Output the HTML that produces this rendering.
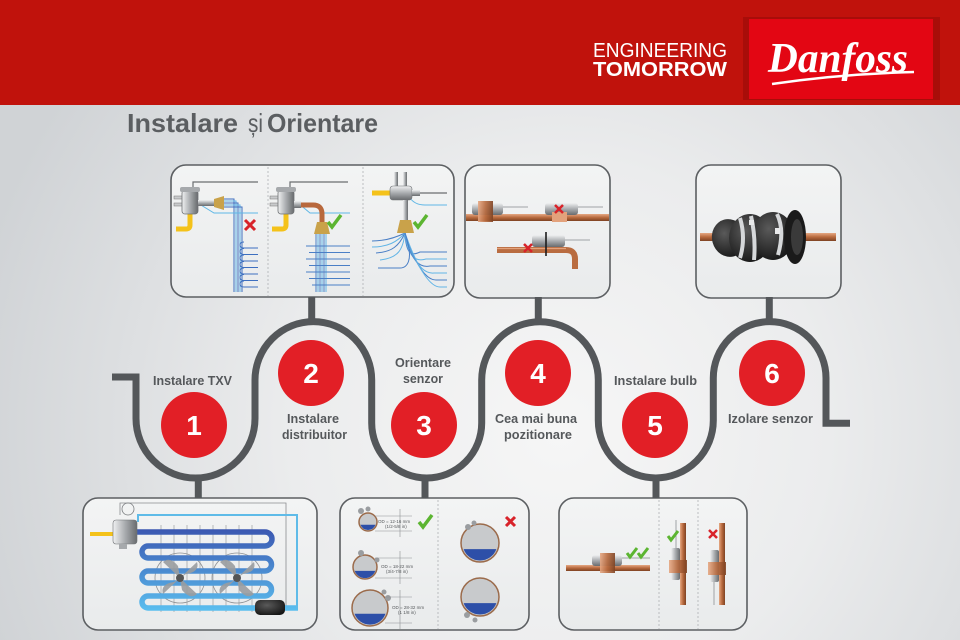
<!DOCTYPE html>
<html><head><meta charset="utf-8">
<style>html,body{margin:0;padding:0;width:960px;height:640px;overflow:hidden;background:#e4e6e8}svg{display:block}</style>
</head>
<body>
<svg width="960" height="640" viewBox="0 0 960 640" xmlns="http://www.w3.org/2000/svg" font-family="'Liberation Sans', sans-serif">
<defs>
<radialGradient id="bg" cx="560" cy="430" r="600" gradientUnits="userSpaceOnUse">
<stop offset="0" stop-color="#f6f6f6"/><stop offset="0.45" stop-color="#ebeced"/><stop offset="1" stop-color="#d0d3d6"/>
</radialGradient>
<linearGradient id="coil" x1="0" y1="528" x2="0" y2="612" gradientUnits="userSpaceOnUse"><stop offset="0" stop-color="#3a55b0"/><stop offset="1" stop-color="#5bc0f0"/></linearGradient>
<linearGradient id="cu" x1="0" y1="0" x2="0" y2="1"><stop offset="0" stop-color="#e6a883"/><stop offset="0.5" stop-color="#b86a3e"/><stop offset="1" stop-color="#7e4222"/></linearGradient>
<linearGradient id="cuv" x1="0" y1="0" x2="1" y2="0"><stop offset="0" stop-color="#e6a883"/><stop offset="0.5" stop-color="#b86a3e"/><stop offset="1" stop-color="#7e4222"/></linearGradient>
<linearGradient id="metal" x1="0" y1="0" x2="0" y2="1"><stop offset="0" stop-color="#f0f1f2"/><stop offset="0.5" stop-color="#a9acaf"/><stop offset="1" stop-color="#686b6e"/></linearGradient>
<linearGradient id="metalv" x1="0" y1="0" x2="1" y2="0"><stop offset="0" stop-color="#f0f1f2"/><stop offset="0.5" stop-color="#a9acaf"/><stop offset="1" stop-color="#686b6e"/></linearGradient>
<radialGradient id="rub" cx="0.4" cy="0.35" r="0.7"><stop offset="0" stop-color="#5a5a5a"/><stop offset="1" stop-color="#161616"/></radialGradient>
<linearGradient id="panel" x1="0" y1="0" x2="0" y2="1"><stop offset="0" stop-color="#f3f4f4"/><stop offset="1" stop-color="#e9ebec"/></linearGradient>
</defs>

<!-- background -->
<rect x="0" y="0" width="960" height="640" fill="url(#bg)"/>

<!-- header -->
<rect x="0" y="0" width="960" height="105" fill="#c0120c"/>
<rect x="743" y="17" width="197" height="83" fill="#a80d09"/>
<rect x="749" y="19" width="184" height="80" fill="#e30613"/>
<text x="768" y="72" font-family="'Liberation Serif', serif" font-style="italic" font-weight="bold" font-size="42" fill="#fff" textLength="140" lengthAdjust="spacingAndGlyphs">Danfoss</text>
<path d="M772,84 Q840,74 914,72" stroke="#fff" stroke-width="2.5" fill="none"/>
<text x="593" y="57" font-size="20" fill="#fff" textLength="134" lengthAdjust="spacingAndGlyphs">ENGINEERING</text>
<text x="593" y="76" font-size="20" font-weight="bold" fill="#fff" textLength="134" lengthAdjust="spacingAndGlyphs">TOMORROW</text>

<!-- title -->
<g fill="#5b5e61" font-size="26">
<text x="127" y="132" font-weight="bold" textLength="111" lengthAdjust="spacingAndGlyphs">Instalare</text>
<text x="248" y="132" textLength="15" lengthAdjust="spacingAndGlyphs">și</text>
<text x="267" y="132" font-weight="bold" textLength="111" lengthAdjust="spacingAndGlyphs">Orientare</text>
</g>

<!-- panels -->
<g fill="url(#panel)" stroke="#5c5f62" stroke-width="1.6">
<rect x="171" y="165" width="283" height="132" rx="15"/>
<rect x="465" y="165" width="145" height="133" rx="15"/>
<rect x="696" y="165" width="145" height="133" rx="15"/>
<rect x="83" y="498" width="234" height="132" rx="15"/>
<rect x="340" y="498" width="189" height="132" rx="15"/>
<rect x="559" y="498" width="188" height="132" rx="15"/>
</g>
<g stroke="#aeb1b4" stroke-width="0.8" stroke-dasharray="2,2">
<line x1="268" y1="167" x2="268" y2="296"/>
<line x1="363" y1="167" x2="363" y2="296"/>
<line x1="438" y1="500" x2="438" y2="629"/>
<line x1="659" y1="500" x2="659" y2="629"/>
<line x1="698" y1="500" x2="698" y2="629"/>
</g>

<!-- snake path -->
<g stroke="#54575a" stroke-width="7" fill="none" stroke-linejoin="miter">
<path d="M112,377 H136 V418.5 A59.5,59.5 0 0 0 255,418.5 V380 A58.35,58.35 0 0 1 371.7,380 V423 A55,55 0 0 0 481.7,423 V380 A58.3,58.3 0 0 1 598.3,380 V420.5 A57.5,57.5 0 0 0 713.3,420.5 V378 A56.35,56.35 0 0 1 826,378 V423.3 H850"/>
<line x1="311.7" y1="297" x2="311.7" y2="322"/>
<line x1="538.3" y1="297" x2="538.3" y2="322"/>
<line x1="769.3" y1="297" x2="769.3" y2="322"/>
<line x1="198.3" y1="478" x2="198.3" y2="498"/>
<line x1="425" y1="478" x2="425" y2="498"/>
<line x1="656" y1="478" x2="656" y2="498"/>
</g>

<!-- circles -->
<g fill="#e21f26">
<circle cx="194" cy="425" r="33"/>
<circle cx="311" cy="373" r="33"/>
<circle cx="424" cy="425" r="33"/>
<circle cx="538" cy="373" r="33"/>
<circle cx="655" cy="425" r="33"/>
<circle cx="772" cy="373" r="33"/>
</g>
<g fill="#fff" font-size="28" font-weight="bold" text-anchor="middle">
<text x="194" y="435">1</text>
<text x="311" y="383">2</text>
<text x="424" y="435">3</text>
<text x="538" y="383">4</text>
<text x="655" y="435">5</text>
<text x="772" y="383">6</text>
</g>

<!-- labels -->
<g fill="#55585b" font-size="13" font-weight="bold">
<text x="153" y="385" textLength="79" lengthAdjust="spacingAndGlyphs">Instalare TXV</text>
<text x="287" y="423" textLength="52" lengthAdjust="spacingAndGlyphs">Instalare</text>
<text x="282" y="439" textLength="65" lengthAdjust="spacingAndGlyphs">distribuitor</text>
<text x="395" y="367" textLength="56" lengthAdjust="spacingAndGlyphs">Orientare</text>
<text x="403" y="383" textLength="40" lengthAdjust="spacingAndGlyphs">senzor</text>
<text x="495" y="423" textLength="82" lengthAdjust="spacingAndGlyphs">Cea mai buna</text>
<text x="504" y="439" textLength="68" lengthAdjust="spacingAndGlyphs">pozitionare</text>
<text x="614" y="385" textLength="83" lengthAdjust="spacingAndGlyphs">Instalare bulb</text>
<text x="728" y="423" textLength="85" lengthAdjust="spacingAndGlyphs">Izolare senzor</text>
</g>

<!-- ===== Panel A (distributor) ===== -->
<g>
<path d="M193,190 V182 H258" stroke="#6b6e70" stroke-width="1.2" fill="none"/>
<g fill="none" stroke-width="1">
<path d="M224,199 H234 V292" stroke="#3d6fc0"/>
<path d="M224,201 H236 V292" stroke="#62b5e6"/>
<path d="M224,203 H238 V292" stroke="#3d6fc0"/>
<path d="M224,205 H240 V292" stroke="#62b5e6"/>
<path d="M224,207 H242 V292" stroke="#3d6fc0"/>
</g>
<g fill="none" stroke="#3d6fc0" stroke-width="1">
<path d="M244,242 q-4,0 -4,3 q0,3 4,3 H258"/>
<path d="M244,248.5 q-4,0 -4,3 q0,3 4,3 H258"/>
<path d="M244,255 q-4,0 -4,3 q0,3 4,3 H258"/>
<path d="M244,261.5 q-4,0 -4,3 q0,3 4,3 H258"/>
<path d="M244,268 q-4,0 -4,3 q0,3 4,3 H258"/>
<path d="M244,274.5 q-4,0 -4,3 q0,3 4,3 H258"/>
<path d="M244,281 q-4,0 -4,3 q0,3 4,3 H258"/>
</g>
<path d="M196,202 L214,213 H258" stroke="#5fb7e6" stroke-width="1" fill="none"/>
<path d="M176,229 H186 Q190,229 190,225 V214" stroke="#f4c21a" stroke-width="5" fill="none"/>
<rect x="174" y="196" width="10" height="3" fill="#c8cacc" stroke="#777" stroke-width="0.5"/>
<rect x="174" y="203" width="10" height="3" fill="#c8cacc" stroke="#777" stroke-width="0.5"/>
<rect x="182" y="190" width="16" height="24" rx="3" fill="url(#metalv)" stroke="#6f7275" stroke-width="0.8"/>
<rect x="180" y="187" width="20" height="5" rx="2" fill="#a6a9ac"/>
<rect x="198" y="200" width="16" height="6" fill="url(#metal)"/>
<path d="M214,199 L224,196 L224,210 L214,207Z" fill="#c9a24a"/>
<path d="M245,220 l10,10 M255,220 l-10,10" stroke="#d8232a" stroke-width="3"/>
</g>
<g>
<path d="M290,190 V182 H348" stroke="#6b6e70" stroke-width="1.2" fill="none"/>
<path d="M298,203 L310,213 H350" stroke="#5fb7e6" stroke-width="1" fill="none"/>
<g stroke="#4a7fc6" stroke-width="1" fill="none">
<path d="M316,234 V292"/><path d="M318,234 V292" stroke="#62b5e6"/><path d="M320,234 V292"/><path d="M322,234 V292" stroke="#62b5e6"/><path d="M324,234 V292"/><path d="M326,234 V292" stroke="#62b5e6"/>
<path d="M306,246 H350"/><path d="M309,252.5 H350"/><path d="M306,259 H350"/><path d="M309,265.5 H350"/><path d="M306,272 H350"/><path d="M309,278.5 H350"/><path d="M312,285 H350"/>
</g>
<path d="M272,229 H282 Q286,229 286,225 V214" stroke="#f4c21a" stroke-width="5" fill="none"/>
<path d="M300,205 H313 Q322,205 322,214 V222" stroke="#b8683c" stroke-width="5" fill="none"/>
<rect x="270" y="196" width="10" height="3" fill="#c8cacc" stroke="#777" stroke-width="0.5"/>
<rect x="270" y="203" width="10" height="3" fill="#c8cacc" stroke="#777" stroke-width="0.5"/>
<rect x="278" y="190" width="16" height="24" rx="3" fill="url(#metalv)" stroke="#6f7275" stroke-width="0.8"/>
<rect x="276" y="187" width="20" height="5" rx="2" fill="#a6a9ac"/>
<rect x="294" y="201" width="7" height="7" fill="url(#metal)"/>
<path d="M317,222 L327,222 L330,234 L314,234Z" fill="#c9a24a"/>
<path d="M328,222 l4,5 l9,-12" stroke="#5cb531" stroke-width="3.5" fill="none"/>
</g>
<g>
<path d="M420,193 H447" stroke="#6b6e70" stroke-width="1.2" fill="none"/>
<path d="M410,198 Q415,205 425,205 H447" stroke="#5fb7e6" stroke-width="1" fill="none"/>
<g stroke="#4a7fc6" stroke-width="1" fill="none">
<path d="M405,233 C395,238 385,241 372,241"/>
<path d="M405,233 C397,242 388,247 372,247" stroke="#62b5e6"/>
<path d="M405,233 C399,246 392,252 376,253"/>
<path d="M405,233 C403,250 398,258 380,260" stroke="#62b5e6"/>
<path d="M405,233 C406,255 412,256 420,252 H447"/>
<path d="M405,233 C408,258 416,262 426,259 H447" stroke="#62b5e6"/>
<path d="M405,233 C411,262 420,268 430,266 H447"/>
<path d="M405,233 C414,265 424,274 434,273 H447" stroke="#62b5e6"/>
<path d="M405,233 C417,270 428,280 436,280 H447"/>
<path d="M405,233 C420,275 432,287 440,287 H447" stroke="#62b5e6"/>
<path d="M405,233 C415,262 406,268 400,268 H378"/>
</g>
<path d="M372,193 H392" stroke="#f4c21a" stroke-width="5" fill="none"/>
<rect x="394" y="172" width="4" height="16" fill="url(#metalv)"/>
<rect x="403" y="172" width="4" height="16" fill="url(#metalv)"/>
<rect x="390" y="186" width="22" height="14" rx="3" fill="url(#metal)" stroke="#6f7275" stroke-width="0.6"/>
<rect x="412" y="190" width="8" height="6" fill="url(#metal)"/>
<rect x="403" y="200" width="5" height="20" fill="url(#metalv)"/>
<path d="M400,220 L411,220 L414,233 L397,233Z" fill="#c9a24a"/>
<path d="M414,222 l4,5 l9,-12" stroke="#5cb531" stroke-width="3.5" fill="none"/>
</g>

<!-- ===== Panel B ===== -->
<g>
<rect x="466" y="214" width="143" height="7" fill="url(#cu)"/>
<rect x="472" y="203" width="31" height="12" rx="3" fill="url(#metal)"/>
<rect x="478" y="201" width="15" height="21" fill="url(#cuv)" opacity="0.9"/>
<line x1="503" y1="207" x2="528" y2="207" stroke="#a0a3a6" stroke-width="1"/>
<rect x="545" y="203" width="33" height="12" rx="3" fill="url(#metal)"/>
<rect x="552" y="212" width="15" height="10" fill="#e3a27c"/>
<line x1="578" y1="207" x2="603" y2="207" stroke="#a0a3a6" stroke-width="1"/>
<path d="M555,205 l8,8 M563,205 l-8,8" stroke="#d8232a" stroke-width="2.5"/>
<path d="M497,250 H566 Q575,250 575,259 V269" stroke="#b96c40" stroke-width="6" fill="none"/>
<path d="M497,248.5 H566" stroke="#e3a27c" stroke-width="1.2" fill="none"/>
<rect x="532" y="235" width="33" height="12" rx="3" fill="url(#metal)"/>
<line x1="546" y1="232" x2="546" y2="256" stroke="#1c1c1c" stroke-width="1.6"/>
<line x1="565" y1="240" x2="590" y2="240" stroke="#a0a3a6" stroke-width="1"/>
<path d="M524,244 l8,8 M532,244 l-8,8" stroke="#d8232a" stroke-width="2.5"/>
</g>

<!-- ===== Panel C ===== -->
<g>
<rect x="700" y="233" width="136" height="8" fill="url(#cu)"/>
<ellipse cx="729" cy="238" rx="17" ry="19" fill="url(#rub)" transform="rotate(-15 729 238)"/>
<ellipse cx="750" cy="238" rx="21" ry="24" fill="url(#rub)"/>
<ellipse cx="773" cy="236" rx="21" ry="24" fill="url(#rub)"/>
<ellipse cx="795" cy="237" rx="11" ry="27" fill="#1a1a1a"/>
<ellipse cx="797" cy="237" rx="6" ry="18" fill="#3a3a3a"/>
<path d="M740,218 Q746,238 740,258" stroke="#d6d8da" stroke-width="4" fill="none"/>
<path d="M751,216 Q756,238 754,260" stroke="#d6d8da" stroke-width="4" fill="none"/>
<path d="M777,214 Q785,230 778,255" stroke="#d6d8da" stroke-width="4" fill="none"/>
<rect x="749" y="220" width="5" height="5" fill="#e8e9ea"/>
<rect x="775" y="228" width="5" height="6" fill="#e8e9ea"/>
</g>

<!-- ===== Panel D (evaporator) ===== -->
<g>
<path d="M120,515 V503 H286 V607" stroke="#8a8d90" stroke-width="0.8" fill="none"/>
<circle cx="128" cy="509" r="6" fill="none" stroke="#7a7d80" stroke-width="0.8"/>
<g stroke="#8e9194" stroke-width="0.6">
<line x1="161" y1="525" x2="161" y2="612"/><line x1="174" y1="525" x2="174" y2="612"/><line x1="187" y1="525" x2="187" y2="612"/><line x1="200" y1="525" x2="200" y2="612"/><line x1="213" y1="525" x2="213" y2="612"/><line x1="226" y1="525" x2="226" y2="612"/><line x1="239" y1="525" x2="239" y2="612"/><line x1="252" y1="525" x2="252" y2="612"/>
</g>
<circle cx="180" cy="578" r="25" fill="none" stroke="#8e9194" stroke-width="0.8"/>
<circle cx="237" cy="578" r="25" fill="none" stroke="#8e9194" stroke-width="0.8"/>
<path d="M134,532 H265 A7,7 0 0 1 265,546 H148 A6,6 0 0 0 148,558 H265 A6.5,6.5 0 0 1 265,571 H148 A6,6 0 0 0 148,583 H265 A6.5,6.5 0 0 1 265,596 H148 A6,6 0 0 0 148,608 H298" stroke="url(#coil)" stroke-width="5.5" fill="none"/>
<g fill="#9a9da0" opacity="0.9">
<path d="M180,578 L163,562 Q170,556 178,566Z"/><path d="M180,578 L197,562 Q200,572 186,574Z"/><path d="M180,578 L197,594 Q190,600 182,590Z"/><path d="M180,578 L163,594 Q160,584 174,582Z"/>
<path d="M237,578 L220,562 Q227,556 235,566Z"/><path d="M237,578 L254,562 Q257,572 243,574Z"/><path d="M237,578 L254,594 Q247,600 239,590Z"/><path d="M237,578 L220,594 Q217,584 231,582Z"/>
</g>
<circle cx="180" cy="578" r="4" fill="#555"/>
<circle cx="237" cy="578" r="4" fill="#555"/>
<path d="M138,522 V515 H297 V608" stroke="#5fbbe8" stroke-width="2" fill="none"/>
<path d="M90,534 H113" stroke="#f4c21a" stroke-width="4"/>
<rect x="113" y="520" width="24" height="24" rx="3" fill="url(#metalv)" stroke="#6f7275" stroke-width="0.6"/>
<rect x="119" y="544" width="8" height="5" fill="#a6a9ac"/>
<rect x="255" y="600" width="30" height="15" rx="5" fill="url(#rub)"/>
</g>

<!-- ===== Panel E (sensor orientation) ===== -->
<g>
<g fill="#c8cacc" stroke="#9b6b4b" stroke-width="1.5">
<circle cx="368" cy="522" r="9"/>
<circle cx="365" cy="567" r="12"/>
<circle cx="370" cy="608" r="18"/>
<circle cx="480" cy="543" r="19"/>
<circle cx="480" cy="597" r="19"/>
</g>
<g fill="#2d4fa8">
<path d="M360.5,524.8 A8,8 0 0 0 375.5,524.8Z"/>
<path d="M354.7,570.9 A11,11 0 0 0 375.3,570.9Z"/>
<path d="M354.5,613.8 A16.5,16.5 0 0 0 385.5,613.8Z"/>
<path d="M463.6,549.1 A17.5,17.5 0 0 0 496.4,549.1Z"/>
<path d="M463.6,603.1 A17.5,17.5 0 0 0 496.4,603.1Z"/>
</g>
<g fill="#9a9da0">
<circle cx="361" cy="511" r="3"/><circle cx="368" cy="509" r="2.5"/>
<circle cx="361" cy="553" r="3"/><circle cx="377" cy="560" r="2.5"/>
<circle cx="388" cy="598" r="3"/><circle cx="384" cy="592" r="2.5"/>
<circle cx="468" cy="527" r="3"/><circle cx="474" cy="523" r="2.5"/>
<circle cx="467" cy="615" r="3"/><circle cx="475" cy="620" r="2.5"/>
</g>
<g stroke="#8d9093" stroke-width="0.6">
<line x1="375" y1="516" x2="412" y2="516"/><line x1="375" y1="531" x2="412" y2="531"/><line x1="400" y1="509" x2="400" y2="537"/>
<line x1="375" y1="558" x2="412" y2="558"/><line x1="375" y1="578" x2="412" y2="578"/><line x1="400" y1="551" x2="400" y2="584"/>
<line x1="385" y1="597" x2="412" y2="597"/><line x1="385" y1="623" x2="412" y2="623"/><line x1="400" y1="590" x2="400" y2="629"/>
</g>
<g fill="#55585b" font-size="4.5">
<text x="378" y="523">OD = 12-16 mm</text><text x="385" y="528">(1/2-5/8 in)</text>
<text x="381" y="568">OD = 18-22 mm</text><text x="386" y="573">(3/4-7/8 in)</text>
<text x="392" y="609">OD = 28-32 mm</text><text x="398" y="614">(1 1/8 in)</text>
</g>
<path d="M419,522 l4,5 l9,-12" stroke="#5cb531" stroke-width="3.5" fill="none"/>
<path d="M506,517 l9,9 M515,517 l-9,9" stroke="#d8232a" stroke-width="3"/>
</g>

<!-- ===== Panel F (bulb installation) ===== -->
<g>
<rect x="566" y="565" width="84" height="6" fill="url(#cu)"/>
<rect x="592" y="555" width="30" height="11" rx="3" fill="url(#metal)"/>
<rect x="600" y="553" width="15" height="20" fill="url(#cuv)" opacity="0.9"/>
<line x1="622" y1="558" x2="650" y2="558" stroke="#a0a3a6" stroke-width="1"/>
<path d="M627,553 l3,4 l7,-9" stroke="#5cb531" stroke-width="3" fill="none"/>
<path d="M638,553 l3,4 l7,-9" stroke="#5cb531" stroke-width="3" fill="none"/>
<rect x="680" y="523" width="6" height="82" fill="url(#cuv)"/>
<line x1="676" y1="520" x2="676" y2="548" stroke="#a0a3a6" stroke-width="1"/>
<rect x="671" y="548" width="9" height="32" rx="2" fill="url(#metalv)"/>
<rect x="669" y="560" width="18" height="13" fill="url(#cuv)" opacity="0.9"/>
<path d="M668,536 l3,4 l7,-9" stroke="#5cb531" stroke-width="3" fill="none"/>
<rect x="719" y="523" width="6" height="82" fill="url(#cuv)"/>
<line x1="714" y1="580" x2="714" y2="605" stroke="#a0a3a6" stroke-width="1"/>
<rect x="710" y="550" width="9" height="32" rx="2" fill="url(#metalv)"/>
<rect x="708" y="562" width="18" height="13" fill="url(#cuv)" opacity="0.9"/>
<path d="M709,530 l8,8 M717,530 l-8,8" stroke="#d8232a" stroke-width="2.5"/>
</g>
</svg>
</body></html>
